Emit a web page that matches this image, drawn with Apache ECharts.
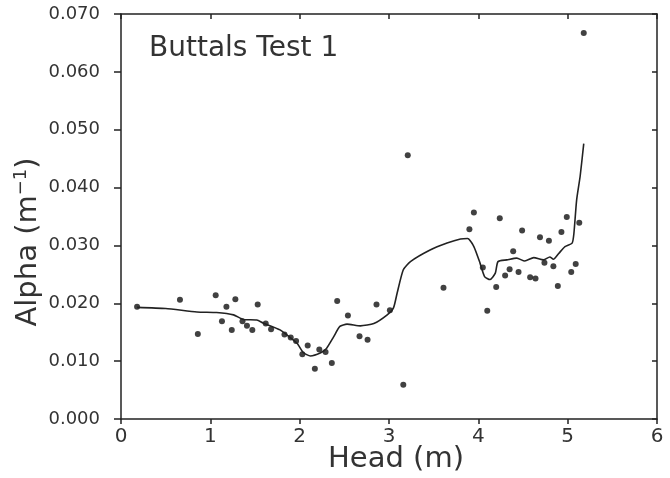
<!DOCTYPE html>
<html>
<head>
<meta charset="utf-8">
<script src="https://cdn.jsdelivr.net/npm/echarts@6/dist/echarts.min.js"></script>
<style>
  html, body { margin: 0; padding: 0; background: #fff; }
  #main { width: 670px; height: 478px; }
</style>
</head>
<body>
<div id="main"></div>
<script>
// measured points (Head m, Alpha 1/m)
const pointHead = [0.18, 0.66, 0.86, 1.06, 1.13, 1.18, 1.24, 1.28, 1.36, 1.41, 1.47, 1.53, 1.62, 1.68,
  1.83, 1.90, 1.96, 2.03, 2.09, 2.17, 2.22, 2.29, 2.36, 2.42, 2.54, 2.67, 2.76, 2.86, 3.01, 3.16,
  3.21, 3.61, 3.90, 3.95, 4.05, 4.10, 4.20, 4.24, 4.30, 4.35, 4.39, 4.45, 4.49, 4.58, 4.64, 4.69,
  4.74, 4.79, 4.84, 4.89, 4.93, 4.99, 5.04, 5.09, 5.13, 5.18];
const pointAlpha = [0.0194, 0.0206, 0.0147, 0.0214, 0.0169, 0.0194, 0.0154, 0.0207, 0.0169, 0.0161, 0.0154, 0.0198, 0.0165, 0.0155,
  0.0146, 0.0141, 0.0135, 0.0112, 0.0127, 0.0087, 0.0120, 0.0116, 0.0097, 0.0204, 0.0179, 0.0143, 0.0137, 0.0198, 0.0188, 0.0059,
  0.0456, 0.0227, 0.0328, 0.0357, 0.0262, 0.0187, 0.0228, 0.0347, 0.0248, 0.0259, 0.0290, 0.0254, 0.0326, 0.0245, 0.0243, 0.0314,
  0.0270, 0.0308, 0.0264, 0.0230, 0.0323, 0.0349, 0.0254, 0.0268, 0.0339, 0.0667];

// fitted curve
const curveHead = [0.18, 0.50, 0.85, 1.07, 1.26, 1.37, 1.52, 1.59, 1.78, 1.97, 2.04, 2.12, 2.23, 2.30, 2.38,
  2.45, 2.53, 2.68, 2.83, 2.98, 3.05, 3.09, 3.16, 3.24, 3.46, 3.65, 3.80, 3.88, 3.95, 4.02, 4.07, 4.13,
  4.19, 4.22, 4.32, 4.43, 4.52, 4.62, 4.73, 4.80, 4.84, 4.90, 4.97, 5.05, 5.07, 5.10, 5.14, 5.18];
const curveAlpha = [0.0193, 0.0191, 0.0185, 0.0184, 0.0180, 0.0172, 0.0171, 0.0166, 0.0154, 0.0131, 0.0115, 0.0109, 0.0114, 0.0122, 0.0142,
  0.0160, 0.0164, 0.0161, 0.0165, 0.0180, 0.0192, 0.0217, 0.0258, 0.0272, 0.0292, 0.0304, 0.0311, 0.0312, 0.0298, 0.0269, 0.0246, 0.0241,
  0.0252, 0.0272, 0.0275, 0.0278, 0.0273, 0.0279, 0.0275, 0.0280, 0.0276, 0.0286, 0.0298, 0.0304, 0.0321, 0.0378, 0.0420, 0.0476];

const title = 'Buttals Test 1';
const xName = 'Head (m)';

const font = '"DejaVu Sans", sans-serif';
const ink = '#333';

let chart = echarts.init(document.getElementById('main'), null, { renderer: 'canvas' });

const axisLine = { show: true, onZero: false, lineStyle: { color: '#222', width: 1.5 } };

chart.setOption({
  animation: false,
  backgroundColor: '#fff',
  grid: { left: 121, right: 13, top: 14, bottom: 59 },
  xAxis: [
    {
      type: 'value', min: 0, max: 6, interval: 1,
      axisLine: axisLine,
      axisTick: { show: true, length: 5, lineStyle: { color: '#222', width: 1.5 } },
      axisLabel: { color: ink, fontFamily: font, fontSize: 20, margin: 8 },
      splitLine: { show: false }
    },
    {
      type: 'value', min: 0, max: 6, interval: 1, position: 'top',
      axisLine: axisLine,
      axisTick: { show: true, inside: true, length: 5, lineStyle: { color: '#222', width: 1.5 } },
      axisLabel: { show: false },
      splitLine: { show: false }
    }
  ],
  yAxis: [
    {
      type: 'value', min: 0, max: 0.07, interval: 0.01,
      axisLine: axisLine,
      axisTick: { show: true, length: 7, lineStyle: { color: '#222', width: 1.5 } },
      axisLabel: {
        color: ink, fontFamily: font, fontSize: 18, margin: 21,
        formatter: v => v.toFixed(3)
      },
      splitLine: { show: false }
    },
    {
      type: 'value', min: 0, max: 0.07, interval: 0.01, position: 'right',
      axisLine: axisLine,
      axisTick: { show: true, inside: true, length: 5, lineStyle: { color: '#222', width: 1.5 } },
      axisLabel: { show: false },
      splitLine: { show: false }
    }
  ],
  graphic: [
    {
      type: 'text', left: 149, top: 35,
      style: { text: title, fill: ink, font: '28px ' + font }
    },
    {
      type: 'text', x: 396, y: 459,
      style: { text: xName, fill: ink, font: '29px ' + font, align: 'center', verticalAlign: 'middle' }
    },
    {
      type: 'text', x: 28, y: 242, rotation: Math.PI / 2,
      style: {
        text: '{a|Alpha (m}{s|−1}{a|)}',
        align: 'center', verticalAlign: 'middle',
        rich: {
          a: { fontSize: 29, fontFamily: font, fill: ink, color: ink },
          s: { fontSize: 18, fontFamily: font, fill: ink, color: ink, verticalAlign: 'top', padding: [0, 0, 14, 0] }
        }
      }
    }
  ],
  series: [
    {
      type: 'scatter',
      data: pointHead.map((h, i) => [h, pointAlpha[i]]),
      symbol: 'circle',
      symbolSize: 6,
      itemStyle: { color: '#111' }
    },
    {
      type: 'line',
      data: curveHead.map((h, i) => [h, curveAlpha[i]]),
      showSymbol: false,
      smooth: 0.2,
      lineStyle: { color: '#222', width: 1.6 }
    }
  ]
});
</script>
</body>
</html>
